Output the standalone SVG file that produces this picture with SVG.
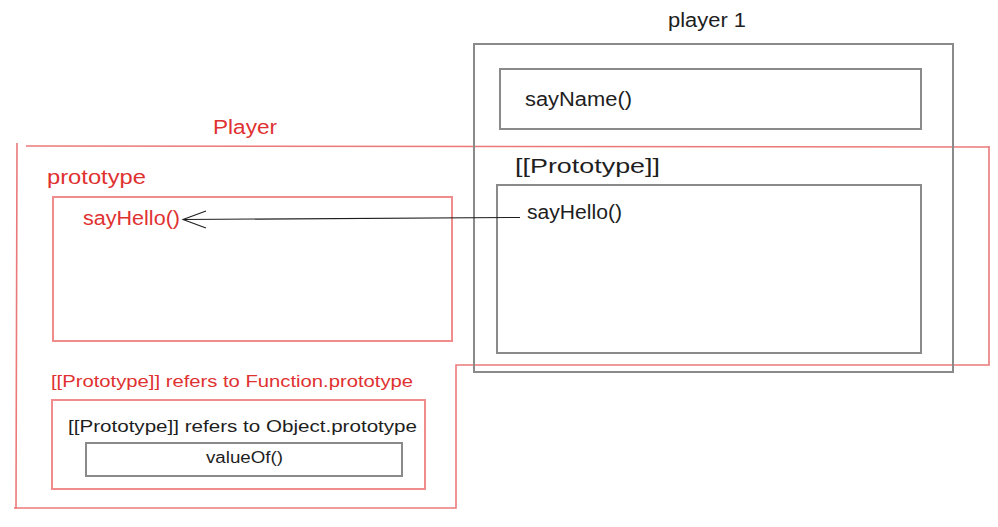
<svg xmlns="http://www.w3.org/2000/svg" width="998" height="527" viewBox="0 0 998 527">
<style>
  text { font-family: "Liberation Sans", "DejaVu Sans", sans-serif; }
  .blk { fill: #1e1e1e; font-size: 20px; }
  .red { fill: #e03131; font-size: 20px; }
  .sm { font-size: 16px; }
  .gbox { fill: none; stroke: #8a8a8a; stroke-width: 2; }
  .rbox { fill: none; stroke: #f08c8c; stroke-width: 2; }
  .outline { fill: none; stroke: #e03131; stroke-opacity: 0.65; stroke-width: 1.6; }
  .conn { fill: none; stroke: #1e1e1e; stroke-width: 1.1; }
</style>
<g id="player-outline">
  <path class="outline" d="M17 143 L16 509 M26 146 L989 147 M989 146 L989 365 L456 365 L456 508 L14 508"/>
  <text class="red" x="213" y="134" textLength="64" lengthAdjust="spacingAndGlyphs">Player</text>
</g>
<g id="prototype">
  <text class="red" x="47" y="184" textLength="99" lengthAdjust="spacingAndGlyphs">prototype</text>
  <rect class="rbox" x="53" y="197" width="399" height="144"/>
  <text class="red" x="83" y="225" textLength="97" lengthAdjust="spacingAndGlyphs">sayHello()</text>
</g>
<g id="function-proto">
  <text class="red sm" x="51" y="387" textLength="362" lengthAdjust="spacingAndGlyphs">[[Prototype]] refers to Function.prototype</text>
  <rect class="rbox" x="52" y="400" width="373" height="89"/>
  <text class="blk sm" x="68" y="432" textLength="349" lengthAdjust="spacingAndGlyphs">[[Prototype]] refers to Object.prototype</text>
</g>
<g id="valueOf">
  <rect class="gbox" x="86" y="443" width="316" height="33"/>
  <text class="blk sm" x="206" y="463" textLength="77" lengthAdjust="spacingAndGlyphs">valueOf()</text>
</g>
<g id="player1">
  <text class="blk" x="668" y="27" textLength="78" lengthAdjust="spacingAndGlyphs">player 1</text>
  <rect class="gbox" x="474" y="44" width="479" height="328"/>
</g>
<g id="sayName">
  <rect class="gbox" x="500" y="69" width="421" height="60"/>
  <text class="blk" x="525" y="106" textLength="107" lengthAdjust="spacingAndGlyphs">sayName()</text>
</g>
<g id="player1-proto">
  <text class="blk" x="515" y="173" textLength="145" lengthAdjust="spacingAndGlyphs">[[Prototype]]</text>
  <rect class="gbox" x="497" y="185" width="424" height="168"/>
  <text class="blk" x="527" y="219" textLength="95" lengthAdjust="spacingAndGlyphs">sayHello()</text>
</g>
<g id="connectors">
  <path class="conn" d="M520 217.5 L183 219.5"/>
  <path class="conn" d="M206 211 L183 219.5 L206 228"/>
</g>
</svg>
